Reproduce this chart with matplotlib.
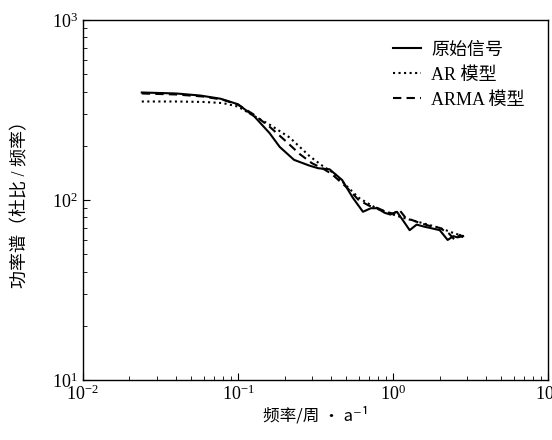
import matplotlib.pyplot as plt

plt.rcParams['font.family'] = ['Liberation Serif', 'Noto Sans CJK SC', 'DejaVu Serif']
plt.rcParams['mathtext.fontset'] = 'custom'
plt.rcParams['mathtext.rm'] = 'Liberation Serif'
plt.rcParams['mathtext.it'] = 'Liberation Serif:italic'

# 原始信号
f_orig = [0.024, 0.04, 0.057, 0.077, 0.1, 0.128, 0.16, 0.186, 0.23, 0.29, 0.33, 0.39,
          0.47, 0.55, 0.64, 0.72, 0.79, 0.88, 0.96, 1.06, 1.16, 1.28, 1.42, 1.6, 1.73,
          2.0, 2.25, 2.45, 2.6, 2.83]
p_orig = [395, 390, 380, 365, 340, 290, 235, 197, 167, 155, 150, 148,
          129, 103, 86, 90, 90, 85, 83, 86, 77, 68, 73, 71, 70,
          68, 60, 63, 62, 63]

# AR 模型
f_ar = [0.024, 0.04, 0.06, 0.08, 0.1, 0.125, 0.16, 0.216, 0.29, 0.35, 0.42, 0.5,
        0.6, 0.7, 0.8, 0.9, 1.0, 1.2, 1.5, 2.0, 2.4, 2.83]
p_ar = [352, 352, 350, 345, 330, 295, 262, 222, 175, 155, 140, 120,
        103, 95, 89, 86, 83, 79, 75, 70, 66, 63]

# ARMA 模型
f_arma = [0.024, 0.04, 0.06, 0.08, 0.1, 0.125, 0.16, 0.2, 0.25, 0.3, 0.35, 0.4,
          0.5, 0.6, 0.7, 0.8, 0.9, 1.0, 1.1, 1.2, 1.4, 1.7, 2.0, 2.3, 2.5, 2.7, 2.83]
p_arma = [390, 385, 375, 360, 338, 300, 255, 215, 180, 160, 150, 140,
          118, 100, 93, 90, 86, 84, 88, 80, 76, 72, 70, 65, 60, 64, 62]

fig = plt.figure(figsize=(5.52, 4.4), dpi=100)
ax = fig.add_axes([0.150, 0.136, 0.843, 0.819])

ax.plot(f_orig, p_orig, color='black', linestyle='-', linewidth=1.5, label='原始信号')
ax.plot(f_ar, p_ar, color='black', linestyle=':', linewidth=1.5, label='AR 模型')
ax.plot(f_arma, p_arma, color='black', linestyle='--', dashes=(4, 2.5), linewidth=1.5,
        label='ARMA 模型')

ax.set_xscale('log')
ax.set_yscale('log')
ax.set_xlim(0.01, 10)
ax.set_ylim(10, 1000)

ax.tick_params(which='both', direction='in', top=False, right=False, labelsize=13)
ax.tick_params(which='major', length=5)
ax.tick_params(which='minor', length=3)
for s in ax.spines.values():
    s.set_linewidth(1.0)

ax.set_xlabel('频率/周 · a⁻¹', fontsize=12, labelpad=2,
              family=['Noto Sans CJK SC', 'DejaVu Sans'])
ax.set_ylabel('功率谱（杜比 / 频率）', fontsize=13, labelpad=16)

ax.legend(loc='upper right', frameon=False, fontsize=13, handlelength=1.5,
          handletextpad=0.6, labelspacing=0.45, bbox_to_anchor=(0.985, 0.985))

fig.savefig('out.png', dpi=100)
